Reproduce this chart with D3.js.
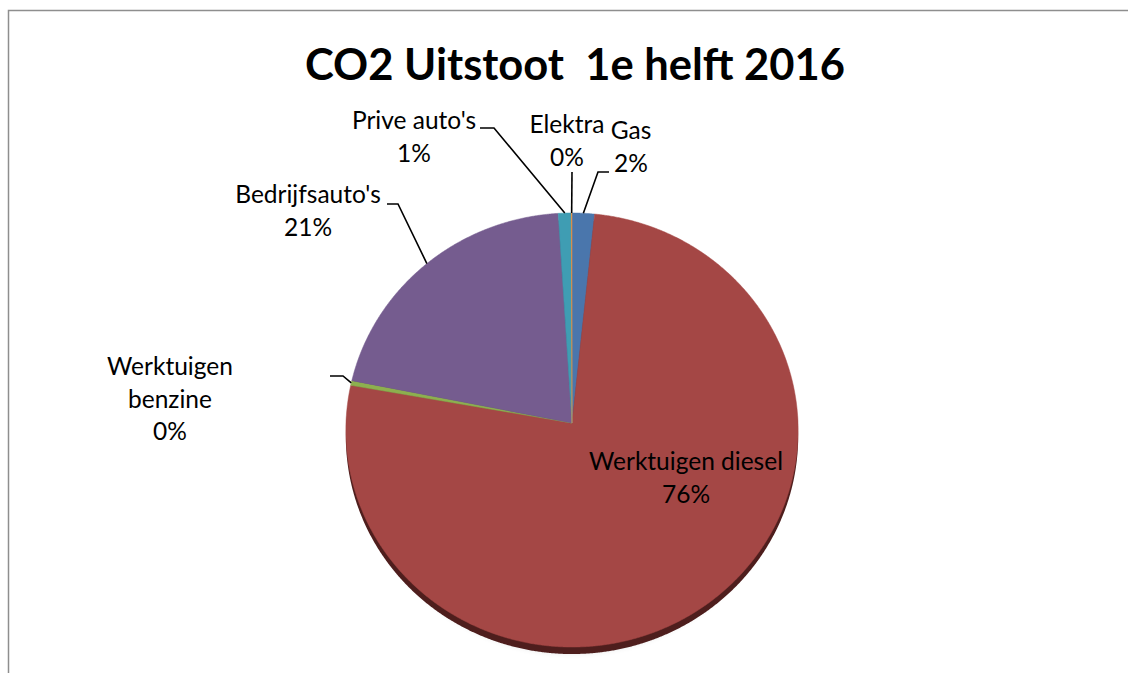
<!DOCTYPE html>
<html>
<head>
<meta charset="utf-8">
<script src="https://cdn.jsdelivr.net/npm/d3@7"></script>
<style>
  body { margin: 0; background: #fff; }
  text { font-family: Lato, "Open Sans", sans-serif; fill: #000; }
</style>
</head>
<body>
<div id="main"></div>
<script>
const ctx = {
    w: 1128,
    h: 673,
    cx: 572,       // projected pie centre
    cy: 423,
    rx: 226,
    ry: 216.8,
    persp: 0.0323, // how much the far side shrinks
    depth: 7,
    fontSize: 24.5,
    lineH: 32.5,
};

// values (share in %)
const categories = ["Gas", "Werktuigen diesel", "Werktuigen benzine", "Bedrijfsauto's", "Prive auto's", "Elektra"];
const shares = [1.65, 76.15, 0.35, 20.85, 0.95, 0.05];
const colors = ["#4a76ac", "#a44745", "#8db04e", "#755c8f", "#3f9db3", "#f0913e"];
const sideColors = ["#24395a", "#4e1e1d", "#44581f", "#3a2c49", "#1d4e5b", "#7a4519"];

// label placement (manual in the original chart)
const labelLines = [["Gas"], ["Werktuigen diesel"], ["Werktuigen", "benzine"], ["Bedrijfsauto's"], ["Prive auto's"], ["Elektra"]];
const labelPos = [[631, 139], [686, 470], [170, 375], [308, 203], [414, 129], [567, 133]];
const leaderElbow = [[598, 172], null, [343, 376], [398, 204], [494, 128], [572, 172]];
const leaderStub = [609, null, 330, 387, 480, null];

function project(angle, r) {
    let u = r * Math.sin(angle);
    let v = -r * Math.cos(angle);
    let s = 1 / (1 - ctx.persp * v);
    return [ctx.cx + ctx.rx * u * s, ctx.cy + ctx.ry * v * s];
}

function slicePoints(d, dy) {
    let pts = [[ctx.cx, ctx.cy + dy]];
    let n = Math.max(2, Math.ceil((d.endAngle - d.startAngle) / 0.005));
    for (let i = 0; i <= n; i++) {
        let a = d.startAngle + (d.endAngle - d.startAngle) * i / n;
        let p = project(a, 1);
        pts.push([p[0], p[1] + dy]);
    }
    return pts;
}

function createViz() {
    let svgEl = d3.select("#main").append("svg")
        .attr("width", ctx.w)
        .attr("height", ctx.h);

    let defs = svgEl.append("defs");
    defs.append("filter").attr("id", "soft")
        .attr("x", "-20%").attr("y", "-20%").attr("width", "140%").attr("height", "140%")
        .append("feGaussianBlur").attr("stdDeviation", 3);

    // chart area frame
    svgEl.append("rect")
        .attr("x", 8.5).attr("y", 10.5)
        .attr("width", ctx.w + 20).attr("height", ctx.h + 20)
        .attr("fill", "#fff")
        .attr("stroke", "#8e8e8e")
        .attr("stroke-width", 1.5);

    svgEl.append("text")
        .attr("x", 575)
        .attr("y", 80)
        .attr("text-anchor", "middle")
        .style("white-space", "pre")
        .style("font-weight", "bold")
        .style("font-size", "43.5px")
        .text("CO2 Uitstoot  1e helft 2016");

    let pie = d3.pie().sort(null).value((d) => d)(shares);
    let line = d3.line();

    // soft drop shadow under the disc
    svgEl.append("ellipse")
        .attr("cx", ctx.cx)
        .attr("cy", ctx.cy + 12)
        .attr("rx", ctx.rx - 6)
        .attr("ry", ctx.ry + 1)
        .attr("fill", "#000")
        .attr("opacity", 0.12)
        .attr("filter", "url(#soft)");

    // side walls (shifted copy of each slice)
    svgEl.append("g").selectAll("path")
        .data(pie.filter((d) => d.endAngle > d.startAngle))
        .enter()
        .append("path")
        .attr("d", (d) => line(slicePoints(d, ctx.depth)) + "Z")
        .attr("fill", (d) => sideColors[d.index]);

    // top faces
    svgEl.append("g").selectAll("path")
        .data(pie.filter((d) => d.endAngle > d.startAngle))
        .enter()
        .append("path")
        .attr("d", (d) => line(slicePoints(d, 0)) + "Z")
        .attr("fill", (d) => colors[d.index])
        .attr("stroke", (d) => colors[d.index])
        .attr("stroke-width", 0.5);

    // leader lines
    let leaders = svgEl.append("g")
        .attr("fill", "none")
        .attr("stroke", "#000")
        .attr("stroke-width", 1.6);
    pie.forEach(function (d, i) {
        if (!leaderElbow[i]) return;
        let mid = (d.startAngle + d.endAngle) / 2;
        let a = project(mid, 1);
        let pts = [a, leaderElbow[i]];
        if (leaderStub[i] != null) pts.push([leaderStub[i], leaderElbow[i][1]]);
        leaders.append("path").attr("d", line(pts));
    });

    // labels
    let fmt = (v) => Math.round(v) + "%";
    pie.forEach(function (d, i) {
        let t = svgEl.append("text")
            .attr("text-anchor", "middle")
            .style("font-size", ctx.fontSize + "px");
        let rows = labelLines[i].concat([fmt(shares[i])]);
        rows.forEach(function (r, j) {
            t.append("tspan")
                .attr("x", labelPos[i][0])
                .attr("y", labelPos[i][1] + j * ctx.lineH)
                .text(r);
        });
    });
}

createViz();
</script>
</body>
</html>
